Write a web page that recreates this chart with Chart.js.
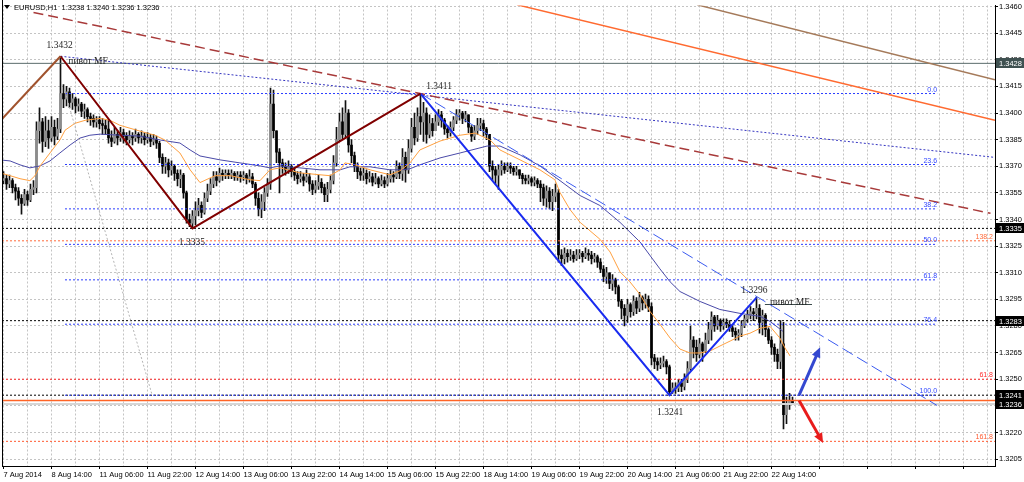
<!DOCTYPE html>
<html>
<head>
<meta charset="utf-8">
<title>EURUSD,H1</title>
<script src="https://cdn.jsdelivr.net/npm/chart.js@4.4.1/dist/chart.umd.min.js"></script>
<style>
  html, body { margin: 0; padding: 0; background: #fff; }
  #wrap { width: 1024px; height: 482px; }
</style>
</head>
<body>
<div id="wrap"><canvas id="chart" width="1024" height="482"></canvas></div>
<script>
// EURUSD H1, 7 Aug - 22 Aug 2014

// candles + moving averages are kept in pips above BASE
const BASE = 1.3200;

// one entry per H1 bar, bar 0 = 7 Aug 22:00
const closes = [
  163,160,162,158,156,152,149,154,151,157,158,190,195,184,190,186,
  192,187,191,211,208,212,206,208,204,205,201,202,198,197,195,196,
  194,193,191,186,184,188,186,189,187,185,187,186,188,186,187,185,
  186,184,185,183,175,170,172,168,170,166,163,165,155,140,138,142,
  145,148,144,152,156,160,164,162,166,165,166,165,166,164,165,164,
  165,163,164,160,152,146,150,155,160,205,190,178,172,170,168,170,
  167,165,163,164,162,164,160,157,159,161,158,154,157,162,172,185,
  195,188,200,182,176,170,167,165,166,163,164,161,163,160,162,160,
  163,165,164,170,166,175,168,180,192,186,198,195,200,188,194,190,
  195,199,196,191,189,192,196,199,200,197,199,192,187,190,193,194,
  191,188,170,168,165,168,170,168,170,169,167,168,165,163,162,163,
  161,162,160,158,152,156,150,153,155,120,118,121,119,120,118,120,
  121,119,121,120,118,119,116,112,108,110,104,106,102,94,90,86,
  92,88,94,90,96,93,95,91,62,60,58,59,60,57,43,45,
  45,48,46,50,56,72,68,64,70,66,72,78,85,80,83,80,
  82,81,79,77,75,76,80,84,86,88,87,90,82,86,78,72,
  68,64,60,70,30,36,38,36
];
const highs = [
  167,165,165,163,160,158,154,157,156,160,162,195,203,197,198,196,
  198,196,197,232,216,215,214,211,209,208,206,205,203,200,199,198,
  198,197,196,196,190,192,190,192,191,189,190,189,191,189,190,189,
  189,188,188,187,184,177,175,174,173,171,168,168,166,156,143,145,
  150,152,150,155,160,163,167,167,169,168,168,168,168,167,167,167,
  167,166,168,166,161,155,154,158,163,214,213,190,180,174,172,173,
  171,169,167,167,166,168,166,162,162,165,163,160,161,165,176,192,
  200,203,207,202,185,178,172,169,169,168,167,166,166,164,165,164,
  166,168,167,173,172,180,178,185,197,200,203,211,206,203,199,197,
  199,202,201,197,193,195,198,202,202,201,201,199,193,193,197,197,
  196,192,188,173,170,171,173,172,172,172,170,170,168,166,165,165,
  164,164,163,162,160,159,158,157,160,157,123,124,123,123,122,123,
  123,122,124,123,122,121,120,118,114,113,110,109,107,103,95,92,
  95,93,97,96,99,97,98,97,93,64,62,62,63,61,58,48,
  48,50,50,53,60,80,74,72,73,71,76,82,88,86,86,84,
  84,84,83,81,79,78,83,86,89,91,90,96,92,89,87,79,
  74,70,67,83,82,40,42,40
];
const lows = [
  160,157,158,155,151,148,143,148,148,150,154,155,183,178,181,180,
  184,182,185,189,203,204,203,202,200,201,198,197,195,193,192,192,
  191,188,188,183,181,183,182,184,183,182,183,182,184,183,183,182,
  183,181,182,180,172,166,166,164,165,162,159,158,152,138,136,135,
  137,142,141,143,150,154,158,159,161,162,163,163,163,162,162,161,
  162,160,161,158,148,142,141,145,153,157,186,172,155,166,165,166,
  164,162,160,161,159,161,156,154,155,157,155,150,150,155,160,170,
  184,185,186,178,172,167,163,162,162,160,161,159,160,158,159,158,
  159,161,161,163,163,162,161,166,178,182,184,188,184,183,186,187,
  190,193,192,188,186,187,190,194,196,194,195,189,184,185,188,190,
  187,185,167,162,160,157,165,166,167,166,165,165,163,160,160,160,
  159,159,158,150,148,147,146,145,150,116,114,115,116,117,116,117,
  118,116,118,117,115,116,113,110,105,104,101,100,98,91,84,80,
  82,85,86,87,88,89,90,88,58,56,55,56,57,53,41,42,
  42,43,43,44,48,55,62,60,62,60,65,70,72,77,78,77,
  78,79,77,74,72,72,74,79,82,84,83,84,76,75,74,70,
  64,60,56,56,22,25,33,36
];
const firstOpen = 162;

// moving averages (bar, pips)
const fastBars = [-1.2,2.2,5.5,8.8,10.5,12.2,15.5,18.8,20.5,23.8,27.2,32.2,35.5,38.8,45.5,50.5,53.8,58.8,62.2,65.5,70.5,75.5,82.2,85.5,88.8,92.2,98.8,105.5,108.8,112.2,113.8,117.2,122.2,128.8,132.2,135.5,138.8,145.5,152.2,157.2,162.2,165.5,172.2,178.8,183.8,185.5,188.8,192.2,198.8,202.2,205.5,208.8,212.2,215.5,218.8,222.2,225.5,228.8,232.2,235.5,238.8,242.2,245.5,248.8,252.2,255.5,258.8,260.5,262.2];
const fastPips = [166.3,164.7,163.0,161.9,164.7,170.2,177.5,184.8,190.3,194.2,195.9,197.0,195.9,193.1,189.8,187.5,184.8,177.5,168.0,160.8,164.7,164.7,162.4,161.9,168.0,169.1,166.3,165.2,164.7,168.0,171.9,170.8,168.0,165.2,167.5,171.9,179.2,184.2,187.5,188.7,184.8,179.2,173.6,168.0,162.4,155.2,145.7,138.4,128.9,121.7,110.5,104.9,97.7,88.2,81.0,73.2,67.0,64.8,64.8,65.9,68.7,71.5,74.3,75.9,78.7,79.8,73.2,67.6,63.1];
const slowBars = [-1.2,2.2,5.5,8.8,12.2,15.5,18.8,22.2,25.5,28.8,32.2,38.8,45.5,52.2,58.8,62.2,65.5,72.2,78.8,85.5,88.8,92.2,98.8,105.5,112.2,115.5,122.2,128.8,132.2,135.5,138.8,145.5,152.2,161.2,165.5,172.2,178.8,185.5,192.2,198.8,205.5,212.2,218.8,222.2,225.5,232.2,238.8,245.5,252.2,255.5,259.8];
const slowPips = [173.6,173.0,170.8,169.1,170.2,173.0,177.5,182.0,185.9,187.5,188.1,187.5,187.0,184.8,183.1,179.2,175.8,173.6,171.9,170.2,169.1,170.2,169.1,168.0,168.0,169.7,169.7,168.0,168.0,168.6,170.8,174.7,177.5,181.4,181.4,176.4,170.2,161.9,153.5,147.9,138.4,127.3,112.2,104.9,99.4,93.8,89.3,87.1,85.4,82.6,77.0];

// axis labels
const timeLabels = ['7 Aug 2014','8 Aug 14:00','11 Aug 06:00','11 Aug 22:00','12 Aug 14:00','13 Aug 06:00','13 Aug 22:00','14 Aug 14:00','15 Aug 06:00','15 Aug 22:00','18 Aug 14:00','19 Aug 06:00','19 Aug 22:00','20 Aug 14:00','21 Aug 06:00','21 Aug 22:00','22 Aug 14:00'];
const priceTicks = [1.3205,1.3220,1.3235,1.3250,1.3265,1.3280,1.3295,1.3310,1.3325,1.3340,1.3355,1.3370,1.3385,1.3400,1.3415,1.3430,1.3445,1.3460];

// fibo retracement 1.3411 -> 1.3241
const fiboLevels = ['0.0','23.6','38.2','50.0','61.8','76.4','100.0'];
const fiboPrices = [1.3411,1.3371,1.3346,1.3326,1.3306,1.3281,1.3241];
const FIBO_FROM = 20.5, FIBO_TO = 311.2;

// fibo expansion levels
const expLevels = ['138.2','61.8','161.8'];
const expPrices = [1.3328,1.3250,1.3215];
const expColors = ['#ff6a3a','#ff2a2a','#ff5a30'];

// black dotted levels, marked on the price axis
const levelPrices = [1.3335,1.3283,1.3241];
const pivotPrice = 1.3428;
const hlinePrice = 1.3238;
const bidPrice = 1.3236;

// trend objects, [bar, price]
const zigUp = [[-1.2,1.33954],[19,1.3432]];
const zigBrown = [[19,1.3432],[63,1.3335],[139,1.3411]];
const zigBlue = [[139,1.3411],[222,1.3241],[251,1.3296]];
const channelBlue = [[139,1.3411],[311.2,1.32352]];
const dotBlue = [[19,1.3432],[330.5,1.3375]];
const dashRed = [[10,1.34567],[329,1.33435]];
const greyRay = [[20.5,1.3412],[49.5,1.32413]];
const orangeTrend = [[171.2,1.34610],[330.5,1.33959]];
const brownTrend = [[231.2,1.34610],[330.5,1.34187]];
const pivotShort = [[253.8,1.32921],[269.5,1.32921]];

// text objects
const noteTexts = ['1.3432','пивот MF','1.3411','1.3335','1.3241','1.3296','пивот MF'];
const noteBars = [18.7,21.6,145.2,62.8,222.2,250.3,255.5];
const notePrices = [1.34366,1.34277,1.34137,1.33256,1.32296,1.32988,1.32921];
const noteAlign = ['center','left','center','center','center','center','left'];

// forecast arrows
const arrowFrom = [[265.2,1.3241],[265.2,1.3238]];
const arrowTo = [[272.2,1.3268],[273.2,1.3214]];
const arrowColors = ['#3448d0','#e81c1c'];

const X_MIN = -0.5, X_MAX = 330.5;
const Y_MIN = 1.32011, Y_MAX = 1.34606;

const px = p => BASE + p / 10000;
// forex H1 bars open at the previous close
const opens = closes.map((c, i) => i === 0 ? firstOpen : closes[i - 1]);

function line(points, color, width, dash, order) {
    return {
        type: 'line',
        data: points.map(p => ({ x: p[0], y: p[1] })),
        borderColor: color,
        borderWidth: width,
        borderDash: dash || [],
        pointRadius: 0,
        tension: 0,
        fill: false,
        order: order
    };
}
function hline(price, from, to, color, width, dash, order) {
    return line([[from, price], [to, price]], color, width, dash, order);
}

const datasets = [];

// candles
datasets.push({
    type: 'bar',
    data: closes.map((c, i) => ({ x: i, y: [px(lows[i]), px(highs[i])] })),
    backgroundColor: '#111',
    barThickness: 1,
    grouped: false,
    order: 50
});
datasets.push({
    type: 'bar',
    data: closes.map((c, i) => ({ x: i, y: [px(opens[i]), px(c)] })),
    backgroundColor: closes.map((c, i) => c >= opens[i] ? '#8c8c8c' : '#000'),
    barThickness: 2,
    minBarLength: 1,
    grouped: false,
    order: 49
});

// moving averages
datasets.push(line(fastBars.map((b, i) => [b, px(fastPips[i])]), '#ffa040', 1, null, 40));
datasets.push(line(slowBars.map((b, i) => [b, px(slowPips[i])]), '#4a4aa8', 1, null, 40));

// horizontal levels
fiboPrices.forEach(p => datasets.push(hline(p, FIBO_FROM, FIBO_TO, '#2b3cff', 1, [2, 2], 30)));
expPrices.forEach((p, i) => datasets.push(hline(p, X_MIN, X_MAX, expColors[i], 1, [2, 2], 30)));
levelPrices.forEach(p => datasets.push(hline(p, X_MIN, X_MAX, '#000', 1, [2, 2], 30)));
datasets.push(hline(bidPrice, X_MIN, X_MAX, '#d6d6d6', 2, null, 31));
datasets.push(hline(hlinePrice, X_MIN, X_MAX, '#ff6426', 1.5, null, 29));
datasets.push(hline(pivotPrice, X_MIN, X_MAX, '#5a6c6c', 1, null, 29));
datasets.push(line(pivotShort, '#3c4c4c', 1, null, 29));

// trend lines
datasets.push(line(greyRay, '#b4b4b4', 1, [2, 2], 20));
datasets.push(line(orangeTrend, '#ff6a30', 1.5, null, 20));
datasets.push(line(brownTrend, '#a57a5a', 1.5, null, 20));
datasets.push(line(dashRed, '#a83a3a', 1.5, [10, 5], 20));
datasets.push(line(dotBlue, '#3434c0', 1, [2, 2], 20));
datasets.push(line(channelBlue, '#3a5af0', 1, [12, 5], 20));

// zigzag
datasets.push(line(zigUp, '#a0522d', 2, null, 5));
datasets.push(line(zigBrown, '#800000', 2, null, 5));
datasets.push(line(zigBlue, '#1a2cf0', 2, null, 5));

function drawArrow(ctx, x0, y0, x1, y1, color) {
    const a = Math.atan2(y1 - y0, x1 - x0);
    const len = 11, spread = 0.42;
    ctx.strokeStyle = color;
    ctx.fillStyle = color;
    ctx.lineWidth = 3;
    ctx.beginPath();
    ctx.moveTo(x0, y0);
    ctx.lineTo(x1 - Math.cos(a) * 6, y1 - Math.sin(a) * 6);
    ctx.stroke();
    ctx.beginPath();
    ctx.moveTo(x1, y1);
    ctx.lineTo(x1 - len * Math.cos(a - spread), y1 - len * Math.sin(a - spread));
    ctx.lineTo(x1 - len * Math.cos(a + spread), y1 - len * Math.sin(a + spread));
    ctx.closePath();
    ctx.fill();
}

const overlay = {
    id: 'overlay',
    afterDatasetsDraw(chart) {
        const { ctx, chartArea: area, scales: { x, y } } = chart;
        ctx.save();
        ctx.beginPath();
        ctx.rect(area.left, area.top, area.right - area.left, area.bottom - area.top);
        ctx.clip();

        // level captions
        ctx.font = '7px "Liberation Sans"';
        ctx.textAlign = 'right';
        ctx.textBaseline = 'alphabetic';
        ctx.fillStyle = '#3348ff';
        fiboPrices.forEach((p, i) => {
            ctx.fillText(fiboLevels[i], x.getPixelForValue(FIBO_TO), y.getPixelForValue(p) - 2);
        });
        expPrices.forEach((p, i) => {
            ctx.fillStyle = expColors[i];
            ctx.fillText(expLevels[i], area.right - 2, y.getPixelForValue(p) - 2);
        });

        // text objects
        ctx.font = '9.5px "Liberation Serif"';
        ctx.fillStyle = '#1e1e1e';
        noteTexts.forEach((t, i) => {
            ctx.textAlign = noteAlign[i];
            ctx.fillText(t, x.getPixelForValue(noteBars[i]), y.getPixelForValue(notePrices[i]));
        });

        arrowFrom.forEach((f, i) => {
            drawArrow(ctx,
                x.getPixelForValue(f[0]), y.getPixelForValue(f[1]),
                x.getPixelForValue(arrowTo[i][0]), y.getPixelForValue(arrowTo[i][1]),
                arrowColors[i]);
        });
        ctx.restore();
    },
    afterDraw(chart) {
        const { ctx, chartArea: area, scales: { y } } = chart;
        ctx.save();

        // left frame
        ctx.strokeStyle = '#000';
        ctx.lineWidth = 1;
        ctx.beginPath();
        ctx.moveTo(area.left + 0.5, 0);
        ctx.lineTo(area.left + 0.5, area.bottom);
        ctx.stroke();

        // price marks on the axis
        const marks = [pivotPrice].concat(levelPrices, [bidPrice]);
        ctx.font = '7.5px "Liberation Sans"';
        ctx.textAlign = 'left';
        ctx.textBaseline = 'middle';
        marks.forEach((p, i) => {
            const yy = Math.round(y.getPixelForValue(p));
            ctx.fillStyle = i === 0 ? '#3f5151' : '#000';
            ctx.fillRect(area.right + 1, yy - 5, 1024 - area.right - 1, 10);
            ctx.fillStyle = '#fff';
            ctx.fillText(p.toFixed(4), area.right + 4, yy + 0.5);
        });

        // title
        const last = closes.length - 1;
        ctx.fillStyle = '#000';
        ctx.beginPath();
        ctx.moveTo(4, 5);
        ctx.lineTo(10, 5);
        ctx.lineTo(7, 9);
        ctx.closePath();
        ctx.fill();
        ctx.font = '7.5px "Liberation Sans"';
        ctx.textBaseline = 'middle';
        ctx.fillText('EURUSD,H1  ' + [opens[last], highs[last], lows[last], closes[last]].map(v => px(v).toFixed(4)).join(' '), 14, 8);
        ctx.restore();
    }
};

new Chart(document.getElementById('chart'), {
    type: 'bar',
    data: { datasets: datasets },
    plugins: [overlay],
    options: {
        responsive: false,
        animation: false,
        events: [],
        layout: { padding: { left: 2, top: 1, right: 0, bottom: 0 } },
        plugins: {
            legend: { display: false },
            tooltip: { enabled: false }
        },
        scales: {
            x: {
                type: 'linear',
                min: X_MIN,
                max: X_MAX,
                offset: false,
                afterBuildTicks: s => {
                    const t = [];
                    for (let v = 0; v <= X_MAX; v += 8) t.push({ value: v });
                    s.ticks = t;
                },
                afterFit: s => { s.height = 16; },
                grid: {
                    offset: false,
                    color: '#c4c4c4',
                    tickLength: 3,
                    tickColor: c => (c.tick && c.tick.value % 16 === 0) ? '#000' : 'rgba(0,0,0,0)',
                    tickBorderDash: []
                },
                border: { display: true, color: '#000', dash: [2, 2] },
                ticks: {
                    autoSkip: false,
                    maxRotation: 0,
                    minRotation: 0,
                    align: 'start',
                    padding: 1,
                    color: '#000',
                    font: { family: 'Liberation Sans', size: 7.5 },
                    callback: v => v % 16 === 0 ? (timeLabels[v / 16] || '') : ''
                }
            },
            y: {
                type: 'linear',
                position: 'right',
                min: Y_MIN,
                max: Y_MAX,
                afterBuildTicks: s => { s.ticks = priceTicks.map(v => ({ value: v })); },
                afterFit: s => { s.width = 29; },
                grid: {
                    color: '#c4c4c4',
                    tickLength: 3,
                    tickColor: '#000',
                    tickBorderDash: []
                },
                border: { display: true, color: '#000', dash: [2, 2] },
                ticks: {
                    padding: 1,
                    crossAlign: 'near',
                    color: '#000',
                    font: { family: 'Liberation Sans', size: 7.5 },
                    callback: v => v.toFixed(4)
                }
            }
        }
    }
});
</script>
</body>
</html>
